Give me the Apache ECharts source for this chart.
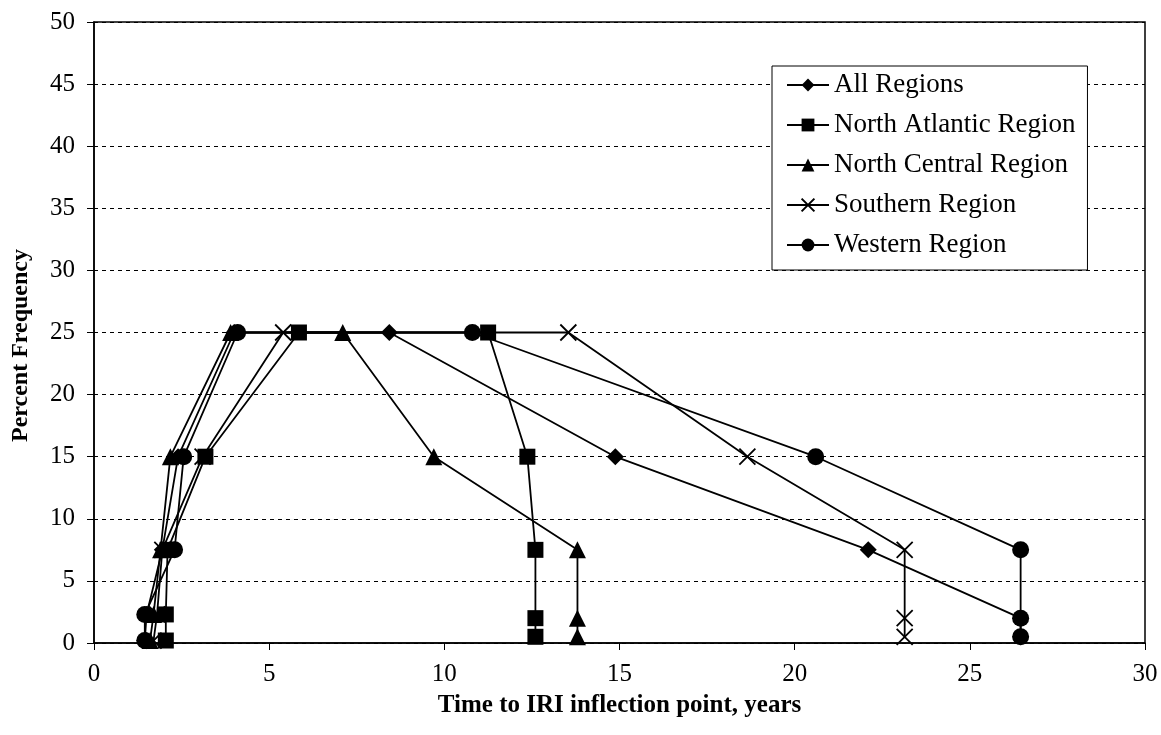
<!DOCTYPE html>
<html>
<head>
<meta charset="utf-8">
<script src="https://cdn.jsdelivr.net/npm/echarts@6/dist/echarts.min.js"></script>
<style>
html,body{margin:0;padding:0;background:#fff;}
#chart{width:1161px;height:735px;}
</style>
</head>
<body>
<div id="chart"></div>
<script>
// Percent frequency levels (y) for each of the 10 points of every series
const yLevels = [0.2, 2.3, 7.5, 15, 25, 25, 15, 7.5, 2, 0.5];
// Time to IRI inflection point, years (x) per series
const allRegionsX    = [1.45, 1.5, 1.95, 2.4, 4.0, 8.43, 14.88, 22.1, 26.45, 26.45];
const northAtlanticX = [2.05, 2.05, 2.1, 3.18, 5.85, 11.25, 12.37, 12.6, 12.6, 12.6];
const northCentralX  = [1.6, 1.7, 1.9, 2.18, 3.9, 7.1, 9.7, 13.8, 13.8, 13.8];
const southernX      = [1.7, 1.8, 1.95, 3.1, 5.4, 13.54, 18.65, 23.14, 23.14, 23.14];
const westernX       = [1.45, 1.45, 2.3, 2.56, 4.1, 10.8, 20.6, 26.45, 26.45, 26.45];

const seriesNames = ['All Regions', 'North Atlantic Region', 'North Central Region', 'Southern Region', 'Western Region'];
const xTickLabels = ['0', '5', '10', '15', '20', '25', '30'];
const yTickLabels = ['0', '5', '10', '15', '20', '25', '30', '35', '40', '45', '50'];

const FONT = '"Liberation Serif", "Times New Roman", serif';
const pairs = xs => xs.map((x, i) => [x, yLevels[i]]);
const xPath = 'path://M0,0L10,10M10,0L0,10';

function mk(name, xs, symbol, size, isCross) {
  return {
    name: name,
    type: 'line',
    data: pairs(xs),
    symbol: symbol,
    symbolSize: size,
    showAllSymbol: true,
    lineStyle: { color: '#000', width: 1.8 },
    itemStyle: isCross
      ? { color: '#000', borderColor: '#000', borderWidth: 1.8 }
      : { color: '#000', borderColor: '#000', borderWidth: 0 },
    emphasis: { disabled: true },
    animation: false
  };
}

const chart = echarts.init(document.getElementById('chart'), null, { renderer: 'canvas' });
chart.setOption({
  backgroundColor: '#fff',
  animation: false,
  grid: { left: 94, right: 16, top: 22, bottom: 92, show: true, borderColor: '#000', borderWidth: 1.5,
          containLabel: false, outerBoundsMode: 'none' },
  legend: {
    orient: 'vertical',
    left: 772, top: 66,
    padding: [5, 12, 11, 14],
    itemGap: 12,
    itemWidth: 42, itemHeight: 16,
    borderColor: '#000', borderWidth: 1,
    backgroundColor: '#fff',
    textStyle: { fontFamily: FONT, fontSize: 27, lineHeight: 28, color: '#000' },
    data: seriesNames
  },
  xAxis: {
    type: 'value', min: 0, max: 30, interval: 5,
    axisLine: { show: true, lineStyle: { color: '#000', width: 1.5 } },
    axisTick: { show: true, inside: false, length: 7, lineStyle: { color: '#000', width: 1 } },
    splitLine: { show: false },
    axisLabel: {
      margin: 19, fontFamily: FONT, fontSize: 25, color: '#000',
      formatter: (v) => xTickLabels[Math.round(v / 5)]
    },
    name: 'Time to IRI inflection point, years',
    nameLocation: 'middle', nameGap: 50,
    nameTextStyle: { fontFamily: FONT, fontSize: 25, fontWeight: 'bold', color: '#000' }
  },
  yAxis: {
    type: 'value', min: 0, max: 50, interval: 5,
    axisLine: { show: true, lineStyle: { color: '#000', width: 1.5 } },
    axisTick: { show: true, inside: false, length: 7, lineStyle: { color: '#000', width: 1 } },
    splitLine: { show: true, lineStyle: { color: '#000', width: 1, type: [4, 4] } },
    axisLabel: {
      margin: 19, fontFamily: FONT, fontSize: 25, color: '#000',
      formatter: (v) => yTickLabels[Math.round(v / 5)]
    },
    name: 'Percent Frequency',
    nameLocation: 'middle', nameGap: 61, nameRotate: 90,
    nameTextStyle: { fontFamily: FONT, fontSize: 24, fontWeight: 'bold', color: '#000', padding: [0, 26, 0, 0] }
  },
  series: [
    mk(seriesNames[0], allRegionsX, 'diamond', 17, false),
    mk(seriesNames[1], northAtlanticX, 'rect', 16, false),
    mk(seriesNames[2], northCentralX, 'triangle', 17, false),
    mk(seriesNames[3], southernX, xPath, 16, true),
    mk(seriesNames[4], westernX, 'circle', 17, false)
  ]
});
</script>
</body>
</html>
